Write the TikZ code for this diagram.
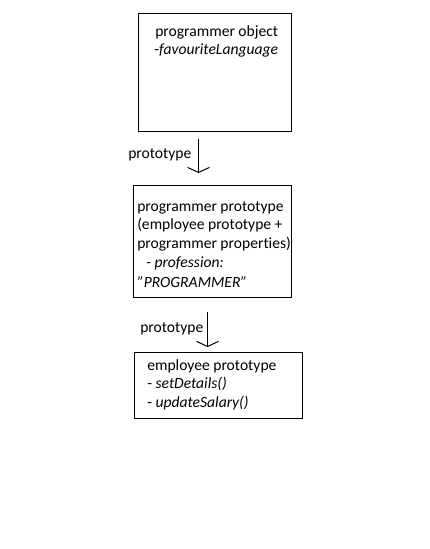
\documentclass[tikz,border=0pt]{standalone}
\usepackage{fontspec}
\setmainfont{Carlito}[Ligatures={NoCommon}]
\usetikzlibrary{arrows.meta}
\begin{document}
\begin{tikzpicture}[x=0.75pt,y=-0.75pt,
  box/.style={draw=black,line width=0.8pt,anchor=north west,inner sep=0pt,rectangle},
  txt/.style={anchor=base west,inner sep=0pt,font=\fontsize{11.7pt}{14pt}\selectfont},
  arr/.style={draw=black,line width=0.75pt,-{Straight Barb[length=3.8pt,width=16.5pt,line width=0.75pt]}}]
\useasboundingbox[fill=white] (0,0) rectangle (429,549);
% boxes
\node[box,minimum width=114.75pt,minimum height=88.5pt] (b1) at (138,13) {};
\node[box,minimum width=118.5pt,minimum height=84pt] (b2) at (133,185) {};
\node[box,minimum width=126pt,minimum height=49.5pt] (b3) at (134,352) {};
% box 1 text
\node[txt] (t11) at (155,37) {programmer object};
\node[txt] (t12) at (154,54.5) {-\textit{favouriteLanguage}};
% box 2 text
\node[txt] (t21) at (137,211) {programmer prototype};
\node[txt] (t22) at (137,229.5) {(employee prototype +};
\node[txt] (t23) at (137,248) {programmer properties)};
\node[txt] (t24) at (146,267.5) {- \textit{profession:}};
\node[txt] (t25) at (137,287) {\textit{\symbol{34}PROGRAMMER\symbol{34}}};
% box 3 text
\node[txt] (t31) at (147,370) {employee prototype};
\node[txt] (t32) at (147,388.5) {- \textit{setDetails()}};
\node[txt] (t33) at (147,407) {- \textit{updateSalary()}};
% connectors
\coordinate (a1s) at (198.5,139);
\coordinate (a1e) at (198.5,173);
\coordinate (a2s) at (207.5,312);
\coordinate (a2e) at (207.5,347);
\draw[arr] (a1s) -- (a1e);
\draw[arr] (a2s) -- (a2e);
\node[txt] (l1) at (128,158) {prototype};
\node[txt] (l2) at (140,332) {prototype};
\end{tikzpicture}
\end{document}
